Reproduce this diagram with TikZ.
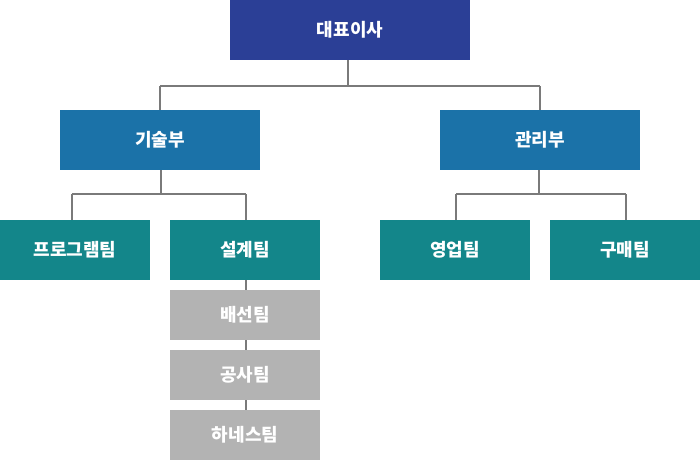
\documentclass[tikz,border=0pt]{standalone}
\usepackage{fontspec}
\setmainfont{Noto Sans CJK KR}
\definecolor{ceo}{HTML}{2B3F96}
\definecolor{dept}{HTML}{1B72A8}
\definecolor{team}{HTML}{13868A}
\definecolor{sub}{HTML}{B3B3B3}
\definecolor{conn}{HTML}{7A7A7A}
\begin{document}
\begin{tikzpicture}[x=1pt,y=-1pt,
  box/.style={inner sep=0pt,text=white,font=\fontsize{18}{20}\selectfont\bfseries,anchor=center},
  ceobox/.style={box,fill=ceo,minimum width=240pt,minimum height=60pt},
  deptbox/.style={box,fill=dept,minimum width=200pt,minimum height=60pt},
  teambox/.style={box,fill=team,minimum width=150pt,minimum height=60pt},
  subbox/.style={box,fill=sub,minimum width=150pt,minimum height=50pt},
  link/.style={draw=conn,line width=2pt}]
\useasboundingbox (0,0) rectangle (700,460);
\node[ceobox] (ceo) at (350,30) {대표이사};
\node[deptbox] (tech) at (160,140) {기술부};
\node[deptbox] (mgmt) at (540,140) {관리부};
\node[teambox] (prog) at (75,250) {프로그램팀};
\node[teambox] (design) at (245,250) {설계팀};
\node[teambox] (sales) at (455,250) {영업팀};
\node[teambox] (buy) at (625,250) {구매팀};
\node[subbox] (ship) at (245,315) {배선팀};
\node[subbox] (cons) at (245,375) {공사팀};
\node[subbox] (harn) at (245,435) {하네스팀};
\coordinate (j0) at (348,86);
\coordinate (j1) at (161,194);
\coordinate (j2) at (539,194);
\draw[link] (ceo.south -| j0) -- (j0);
\draw[link] (j0 -| tech.north) -- (j0 -| mgmt.north);
\draw[link] (j0 -| tech.north) -- (tech.north);
\draw[link] (j0 -| mgmt.north) -- (mgmt.north);
\draw[link] (tech.south -| j1) -- (j1);
\draw[link] (j1 -| 72,0) -- (j1 -| 246,0);
\draw[link] (j1 -| 72,0) -- (prog.north -| 72,0);
\draw[link] (j1 -| 246,0) -- (design.north -| 246,0);
\draw[link] (mgmt.south -| j2) -- (j2);
\draw[link] (j2 -| 456,0) -- (j2 -| 626,0);
\draw[link] (j2 -| 456,0) -- (sales.north -| 456,0);
\draw[link] (j2 -| 626,0) -- (buy.north -| 626,0);
\draw[link] (design.south -| 246,0) -- (ship.north -| 246,0);
\draw[link] (ship.south -| 246,0) -- (cons.north -| 246,0);
\draw[link] (cons.south -| 246,0) -- (harn.north -| 246,0);
\end{tikzpicture}
\end{document}
